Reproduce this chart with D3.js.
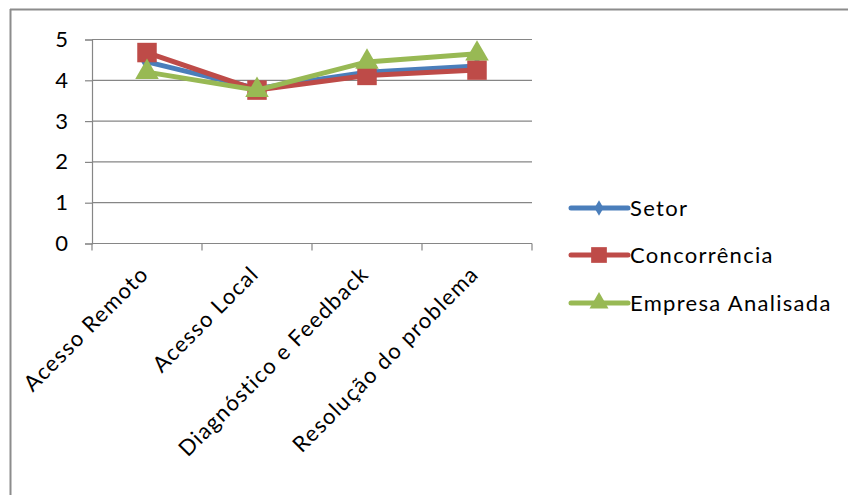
<!DOCTYPE html>
<html>
<head>
<meta charset="utf-8">
<script src="https://cdn.jsdelivr.net/npm/d3@7/dist/d3.min.js"></script>
<style>
  html, body { margin: 0; padding: 0; background: #fff; }
  svg { display: block; }
  text { font-family: Lato, "Open Sans", sans-serif; fill: #000; }
</style>
</head>
<body>
<svg id="chart" width="848" height="495"></svg>
<script>
// Satisfaction scores by service aspect
const categories = ["Acesso Remoto", "Acesso Local", "Diagnóstico e Feedback", "Resolução do problema"];
const setor = [4.45, 3.8, 4.2, 4.35];
const concorrencia = [4.68, 3.76, 4.12, 4.25];
const empresa = [4.2, 3.76, 4.45, 4.65];
const seriesNames = ["Setor", "Concorrência", "Empresa Analisada"];
const yTicks = [0, 1, 2, 3, 4, 5];

const series = [
  { name: seriesNames[0], values: setor, color: "#4A7EBB", symbol: d3.symbolDiamond, size: 110 },
  { name: seriesNames[1], values: concorrencia, color: "#BE4B48", symbol: d3.symbolSquare, size: 380 },
  { name: seriesNames[2], values: empresa, color: "#98B954", symbol: d3.symbolTriangle, size: 240 }
];

const svg = d3.select("#chart");

// outer frame (top and left edges)
svg.append("line").attr("x1", 10).attr("y1", 9.5).attr("x2", 848).attr("y2", 9.5)
  .attr("stroke", "#8c8c8c").attr("stroke-width", 2);
svg.append("line").attr("x1", 10.5).attr("y1", 9).attr("x2", 10.5).attr("y2", 495)
  .attr("stroke", "#8c8c8c").attr("stroke-width", 2);

const plot = { left: 92, right: 532, top: 39.5, bottom: 243.5 };

const x = d3.scaleBand().domain(categories).range([plot.left, plot.right]);
const y = d3.scaleLinear().domain([0, 5]).range([plot.bottom, plot.top]);
const cx = c => x(c) + x.bandwidth() / 2;

// horizontal gridlines
svg.append("g").selectAll("line").data(yTicks.filter(t => t > 0)).join("line")
  .attr("x1", plot.left).attr("x2", plot.right)
  .attr("y1", d => y(d)).attr("y2", d => y(d))
  .attr("stroke", "#868686").attr("stroke-width", 1.2);

// y axis
const yAxis = svg.append("g").attr("transform", `translate(${plot.left},0)`)
  .call(d3.axisLeft(y).tickValues(yTicks).tickSize(7).tickPadding(17).tickFormat(d3.format("d")));
yAxis.select(".domain").attr("stroke", "#868686").attr("stroke-width", 1.2);
yAxis.selectAll(".tick line").attr("stroke", "#868686").attr("stroke-width", 1.2);
yAxis.selectAll(".tick text").attr("font-size", 22).attr("font-family", "Lato, sans-serif").attr("fill", "#000");

// x axis with ticks at category boundaries
const xAxis = svg.append("g").attr("transform", `translate(0,${plot.bottom})`);
xAxis.append("line").attr("x1", plot.left).attr("x2", plot.right)
  .attr("stroke", "#868686").attr("stroke-width", 1.2);
const bounds = categories.map(c => x(c)).concat([plot.right]);
xAxis.selectAll("line.tk").data(bounds).join("line").attr("class", "tk")
  .attr("x1", d => d).attr("x2", d => d).attr("y1", 0).attr("y2", 7)
  .attr("stroke", "#868686").attr("stroke-width", 1.2);
xAxis.selectAll("text").data(categories).join("text")
  .attr("transform", d => `translate(${cx(d) + 3},${32}) rotate(-45)`)
  .attr("text-anchor", "end")
  .attr("font-size", 22)
  .attr("letter-spacing", 1.3)
  .text(d => d);

// series lines and markers
const line = d3.line().x((d, i) => cx(categories[i])).y(d => y(d));
series.forEach(s => {
  const g = svg.append("g");
  g.append("path").datum(s.values).attr("d", line)
    .attr("fill", "none").attr("stroke", s.color).attr("stroke-width", 5)
    .attr("stroke-linejoin", "round").attr("stroke-linecap", "round");
  g.selectAll("path.mk").data(s.values).join("path").attr("class", "mk")
    .attr("transform", (d, i) => `translate(${cx(categories[i])},${y(d)})`)
    .attr("d", d3.symbol().type(s.symbol).size(s.size))
    .attr("fill", s.color);
});

// legend
const legend = svg.append("g");
const legendY = [208, 255, 303];
series.forEach((s, i) => {
  const g = legend.append("g").attr("transform", `translate(0,${legendY[i]})`);
  g.append("line").attr("x1", 571).attr("x2", 628).attr("y1", 0).attr("y2", 0)
    .attr("stroke", s.color).attr("stroke-width", 5).attr("stroke-linecap", "round");
  g.append("path").attr("transform", "translate(599,0)")
    .attr("d", d3.symbol().type(s.symbol).size(s.size * 0.65)).attr("fill", s.color);
  g.append("text").attr("x", 630).attr("y", 0).attr("dy", "0.35em")
    .attr("font-size", 22).attr("letter-spacing", 1.3).text(s.name);
});
</script>
</body>
</html>
